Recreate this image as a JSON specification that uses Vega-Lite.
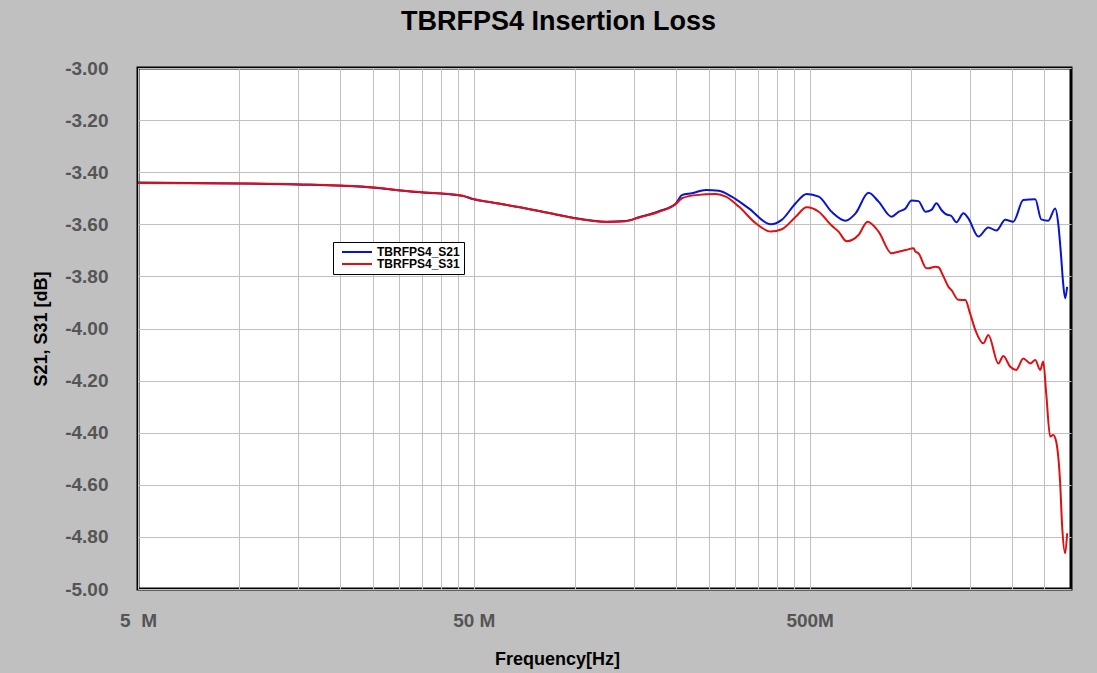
{
  "$schema": "https://vega.github.io/schema/vega-lite/v6.json",
  "width": 933,
  "height": 521,
  "autosize": "none",
  "padding": {"left": 138, "top": 68, "right": 26, "bottom": 84},
  "background": "#c0c0c0",
  "title": {"text": "TBRFPS4 Insertion Loss", "font": "Liberation Sans", "fontSize": 27, "fontWeight": "bold", "color": "#000000", "anchor": "middle", "frame": "group", "dx": -46, "offset": 23},
  "config": {
    "view": {"fill": "#ffffff", "stroke": "#000000", "strokeWidth": 3},
    "axis": {"labelFont": "Liberation Sans", "titleFont": "Liberation Sans"}
  },
  "data": {"values": [
    {"f": 5.0, "v": -3.440, "s": "TBRFPS4_S21"},
    {"f": 10.05, "v": -3.443, "s": "TBRFPS4_S21"},
    {"f": 14.8, "v": -3.447, "s": "TBRFPS4_S21"},
    {"f": 23.3, "v": -3.456, "s": "TBRFPS4_S21"},
    {"f": 32.8, "v": -3.475, "s": "TBRFPS4_S21"},
    {"f": 46.2, "v": -3.490, "s": "TBRFPS4_S21"},
    {"f": 49.5, "v": -3.503, "s": "TBRFPS4_S21"},
    {"f": 56.7, "v": -3.516, "s": "TBRFPS4_S21"},
    {"f": 71.6, "v": -3.539, "s": "TBRFPS4_S21"},
    {"f": 89.8, "v": -3.564, "s": "TBRFPS4_S21"},
    {"f": 100.8, "v": -3.577, "s": "TBRFPS4_S21"},
    {"f": 123.8, "v": -3.590, "s": "TBRFPS4_S21"},
    {"f": 141.9, "v": -3.587, "s": "TBRFPS4_S21"},
    {"f": 155.2, "v": -3.573, "s": "TBRFPS4_S21"},
    {"f": 177.9, "v": -3.550, "s": "TBRFPS4_S21"},
    {"f": 199.8, "v": -3.520, "s": "TBRFPS4_S21"},
    {"f": 208.2, "v": -3.488, "s": "TBRFPS4_S21"},
    {"f": 223, "v": -3.481, "s": "TBRFPS4_S21"},
    {"f": 245.5, "v": -3.468, "s": "TBRFPS4_S21"},
    {"f": 268.3, "v": -3.471, "s": "TBRFPS4_S21"},
    {"f": 293, "v": -3.494, "s": "TBRFPS4_S21"},
    {"f": 329.4, "v": -3.539, "s": "TBRFPS4_S21"},
    {"f": 383, "v": -3.600, "s": "TBRFPS4_S21"},
    {"f": 412.9, "v": -3.583, "s": "TBRFPS4_S21"},
    {"f": 454.4, "v": -3.519, "s": "TBRFPS4_S21"},
    {"f": 489.8, "v": -3.484, "s": "TBRFPS4_S21"},
    {"f": 532, "v": -3.494, "s": "TBRFPS4_S21"},
    {"f": 581.5, "v": -3.552, "s": "TBRFPS4_S21"},
    {"f": 639.5, "v": -3.586, "s": "TBRFPS4_S21"},
    {"f": 685, "v": -3.558, "s": "TBRFPS4_S21"},
    {"f": 748.5, "v": -3.479, "s": "TBRFPS4_S21"},
    {"f": 802, "v": -3.513, "s": "TBRFPS4_S21"},
    {"f": 876.5, "v": -3.571, "s": "TBRFPS4_S21"},
    {"f": 919.5, "v": -3.552, "s": "TBRFPS4_S21"},
    {"f": 964.5, "v": -3.539, "s": "TBRFPS4_S21"},
    {"f": 1005, "v": -3.509, "s": "TBRFPS4_S21"},
    {"f": 1054, "v": -3.511, "s": "TBRFPS4_S21"},
    {"f": 1106, "v": -3.552, "s": "TBRFPS4_S21"},
    {"f": 1152, "v": -3.545, "s": "TBRFPS4_S21"},
    {"f": 1192, "v": -3.519, "s": "TBRFPS4_S21"},
    {"f": 1234, "v": -3.545, "s": "TBRFPS4_S21"},
    {"f": 1268, "v": -3.560, "s": "TBRFPS4_S21"},
    {"f": 1321, "v": -3.568, "s": "TBRFPS4_S21"},
    {"f": 1367, "v": -3.592, "s": "TBRFPS4_S21"},
    {"f": 1435, "v": -3.558, "s": "TBRFPS4_S21"},
    {"f": 1484, "v": -3.577, "s": "TBRFPS4_S21"},
    {"f": 1590, "v": -3.647, "s": "TBRFPS4_S21"},
    {"f": 1702, "v": -3.612, "s": "TBRFPS4_S21"},
    {"f": 1798, "v": -3.624, "s": "TBRFPS4_S21"},
    {"f": 1912, "v": -3.583, "s": "TBRFPS4_S21"},
    {"f": 2020, "v": -3.590, "s": "TBRFPS4_S21"},
    {"f": 2163, "v": -3.507, "s": "TBRFPS4_S21"},
    {"f": 2348, "v": -3.504, "s": "TBRFPS4_S21"},
    {"f": 2446, "v": -3.581, "s": "TBRFPS4_S21"},
    {"f": 2566, "v": -3.586, "s": "TBRFPS4_S21"},
    {"f": 2692, "v": -3.539, "s": "TBRFPS4_S21"},
    {"f": 2748, "v": -3.596, "s": "TBRFPS4_S21"},
    {"f": 2804, "v": -3.724, "s": "TBRFPS4_S21"},
    {"f": 2843, "v": -3.827, "s": "TBRFPS4_S21"},
    {"f": 2882, "v": -3.884, "s": "TBRFPS4_S21"},
    {"f": 2922, "v": -3.840, "s": "TBRFPS4_S21"},

    {"f": 5.0, "v": -3.441, "s": "TBRFPS4_S31"},
    {"f": 10.05, "v": -3.443, "s": "TBRFPS4_S31"},
    {"f": 14.8, "v": -3.446, "s": "TBRFPS4_S31"},
    {"f": 23.3, "v": -3.455, "s": "TBRFPS4_S31"},
    {"f": 32.8, "v": -3.474, "s": "TBRFPS4_S31"},
    {"f": 46.2, "v": -3.490, "s": "TBRFPS4_S31"},
    {"f": 49.5, "v": -3.502, "s": "TBRFPS4_S31"},
    {"f": 56.7, "v": -3.516, "s": "TBRFPS4_S31"},
    {"f": 71.6, "v": -3.539, "s": "TBRFPS4_S31"},
    {"f": 89.8, "v": -3.565, "s": "TBRFPS4_S31"},
    {"f": 100.8, "v": -3.578, "s": "TBRFPS4_S31"},
    {"f": 123.8, "v": -3.591, "s": "TBRFPS4_S31"},
    {"f": 141.9, "v": -3.588, "s": "TBRFPS4_S31"},
    {"f": 155.2, "v": -3.574, "s": "TBRFPS4_S31"},
    {"f": 177.9, "v": -3.552, "s": "TBRFPS4_S31"},
    {"f": 199.8, "v": -3.522, "s": "TBRFPS4_S31"},
    {"f": 208.2, "v": -3.500, "s": "TBRFPS4_S31"},
    {"f": 229, "v": -3.488, "s": "TBRFPS4_S31"},
    {"f": 262.9, "v": -3.484, "s": "TBRFPS4_S31"},
    {"f": 281.5, "v": -3.494, "s": "TBRFPS4_S31"},
    {"f": 307.6, "v": -3.532, "s": "TBRFPS4_S31"},
    {"f": 345.6, "v": -3.596, "s": "TBRFPS4_S31"},
    {"f": 383, "v": -3.628, "s": "TBRFPS4_S31"},
    {"f": 412.9, "v": -3.619, "s": "TBRFPS4_S31"},
    {"f": 454.4, "v": -3.571, "s": "TBRFPS4_S31"},
    {"f": 489.8, "v": -3.535, "s": "TBRFPS4_S31"},
    {"f": 532, "v": -3.552, "s": "TBRFPS4_S31"},
    {"f": 581.5, "v": -3.605, "s": "TBRFPS4_S31"},
    {"f": 609.6, "v": -3.628, "s": "TBRFPS4_S31"},
    {"f": 644, "v": -3.665, "s": "TBRFPS4_S31"},
    {"f": 699, "v": -3.641, "s": "TBRFPS4_S31"},
    {"f": 743.5, "v": -3.590, "s": "TBRFPS4_S31"},
    {"f": 802, "v": -3.628, "s": "TBRFPS4_S31"},
    {"f": 876.5, "v": -3.711, "s": "TBRFPS4_S31"},
    {"f": 919.5, "v": -3.705, "s": "TBRFPS4_S31"},
    {"f": 964.5, "v": -3.699, "s": "TBRFPS4_S31"},
    {"f": 1019, "v": -3.692, "s": "TBRFPS4_S31"},
    {"f": 1033, "v": -3.705, "s": "TBRFPS4_S31"},
    {"f": 1054, "v": -3.711, "s": "TBRFPS4_S31"},
    {"f": 1114, "v": -3.769, "s": "TBRFPS4_S31"},
    {"f": 1129, "v": -3.769, "s": "TBRFPS4_S31"},
    {"f": 1184, "v": -3.763, "s": "TBRFPS4_S31"},
    {"f": 1209, "v": -3.765, "s": "TBRFPS4_S31"},
    {"f": 1251, "v": -3.800, "s": "TBRFPS4_S31"},
    {"f": 1295, "v": -3.840, "s": "TBRFPS4_S31"},
    {"f": 1321, "v": -3.852, "s": "TBRFPS4_S31"},
    {"f": 1386, "v": -3.890, "s": "TBRFPS4_S31"},
    {"f": 1454, "v": -3.891, "s": "TBRFPS4_S31"},
    {"f": 1500, "v": -3.940, "s": "TBRFPS4_S31"},
    {"f": 1557, "v": -4.006, "s": "TBRFPS4_S31"},
    {"f": 1645, "v": -4.057, "s": "TBRFPS4_S31"},
    {"f": 1702, "v": -4.025, "s": "TBRFPS4_S31"},
    {"f": 1823, "v": -4.134, "s": "TBRFPS4_S31"},
    {"f": 1886, "v": -4.106, "s": "TBRFPS4_S31"},
    {"f": 1978, "v": -4.147, "s": "TBRFPS4_S31"},
    {"f": 2061, "v": -4.159, "s": "TBRFPS4_S31"},
    {"f": 2163, "v": -4.115, "s": "TBRFPS4_S31"},
    {"f": 2269, "v": -4.134, "s": "TBRFPS4_S31"},
    {"f": 2348, "v": -4.121, "s": "TBRFPS4_S31"},
    {"f": 2429, "v": -4.159, "s": "TBRFPS4_S31"},
    {"f": 2480, "v": -4.127, "s": "TBRFPS4_S31"},
    {"f": 2531, "v": -4.249, "s": "TBRFPS4_S31"},
    {"f": 2601, "v": -4.415, "s": "TBRFPS4_S31"},
    {"f": 2655, "v": -4.409, "s": "TBRFPS4_S31"},
    {"f": 2710, "v": -4.434, "s": "TBRFPS4_S31"},
    {"f": 2785, "v": -4.594, "s": "TBRFPS4_S31"},
    {"f": 2824, "v": -4.761, "s": "TBRFPS4_S31"},
    {"f": 2882, "v": -4.863, "s": "TBRFPS4_S31"},
    {"f": 2922, "v": -4.786, "s": "TBRFPS4_S31"}
  ]},
  "mark": {"type": "line", "strokeWidth": 2, "interpolate": "monotone"},
  "encoding": {
    "x": {
      "field": "f", "type": "quantitative",
      "scale": {"type": "log", "domain": [5, 3000], "nice": false},
      "axis": {
        "values": [5, 10, 15, 20, 25, 30, 35, 40, 45, 50, 100, 150, 200, 250, 300, 350, 400, 450, 500, 1000, 1500, 2000, 2500],
        "labelExpr": "datum.value == 5 ? '5\u00a0\u00a0M' : datum.value == 50 ? '50 M' : datum.value == 500 ? '500M' : ''",
        "grid": true, "gridColor": "#c0c0c0", "gridWidth": 1, "gridOpacity": 1,
        "ticks": false, "domain": false,
        "labelFontSize": 19, "labelFontWeight": "bold", "labelColor": "#555555", "labelPadding": 22, "labelFlush": false, "labelOverlap": false,
        "title": "Frequency[Hz]", "titleFontSize": 18, "titleFontWeight": "bold", "titleColor": "#000000", "titlePadding": 20, "titleX": 419, "titleAnchor": "start", "titleAlign": "center"
      }
    },
    "y": {
      "field": "v", "type": "quantitative",
      "scale": {"domain": [-5, -3], "nice": false, "zero": false},
      "axis": {
        "values": [-5, -4.8, -4.6, -4.4, -4.2, -4, -3.8, -3.6, -3.4, -3.2, -3],
        "labelExpr": "replace(format(datum.value, '.2f'), '\u2212', '-')",
        "grid": true, "gridColor": "#c0c0c0", "gridWidth": 1, "gridOpacity": 1,
        "ticks": false, "domain": false,
        "labelFontSize": 19, "labelFontWeight": "bold", "labelColor": "#555555", "labelPadding": 30, "labelFlush": false, "labelOverlap": false,
        "title": "S21, S31 [dB]", "titleFontSize": 18, "titleFontWeight": "bold", "titleColor": "#000000", "titlePadding": 14
      }
    },
    "color": {
      "field": "s", "type": "nominal",
      "scale": {"domain": ["TBRFPS4_S21", "TBRFPS4_S31"], "range": ["#0a14d0", "#dd1111"]},
      "legend": {
        "title": null, "orient": "none", "legendX": 195, "legendY": 174,
        "fillColor": "#ffffff", "strokeColor": "#000000", "padding": 4,
        "symbolType": "M-3,0H3", "symbolSize": 100, "symbolStrokeWidth": 2, "symbolOffset": 14,
        "labelFont": "Liberation Sans", "labelFontSize": 12, "labelFontWeight": "bold", "labelColor": "#000000",
        "rowPadding": 0, "labelOffset": 14
      }
    }
  }
}
